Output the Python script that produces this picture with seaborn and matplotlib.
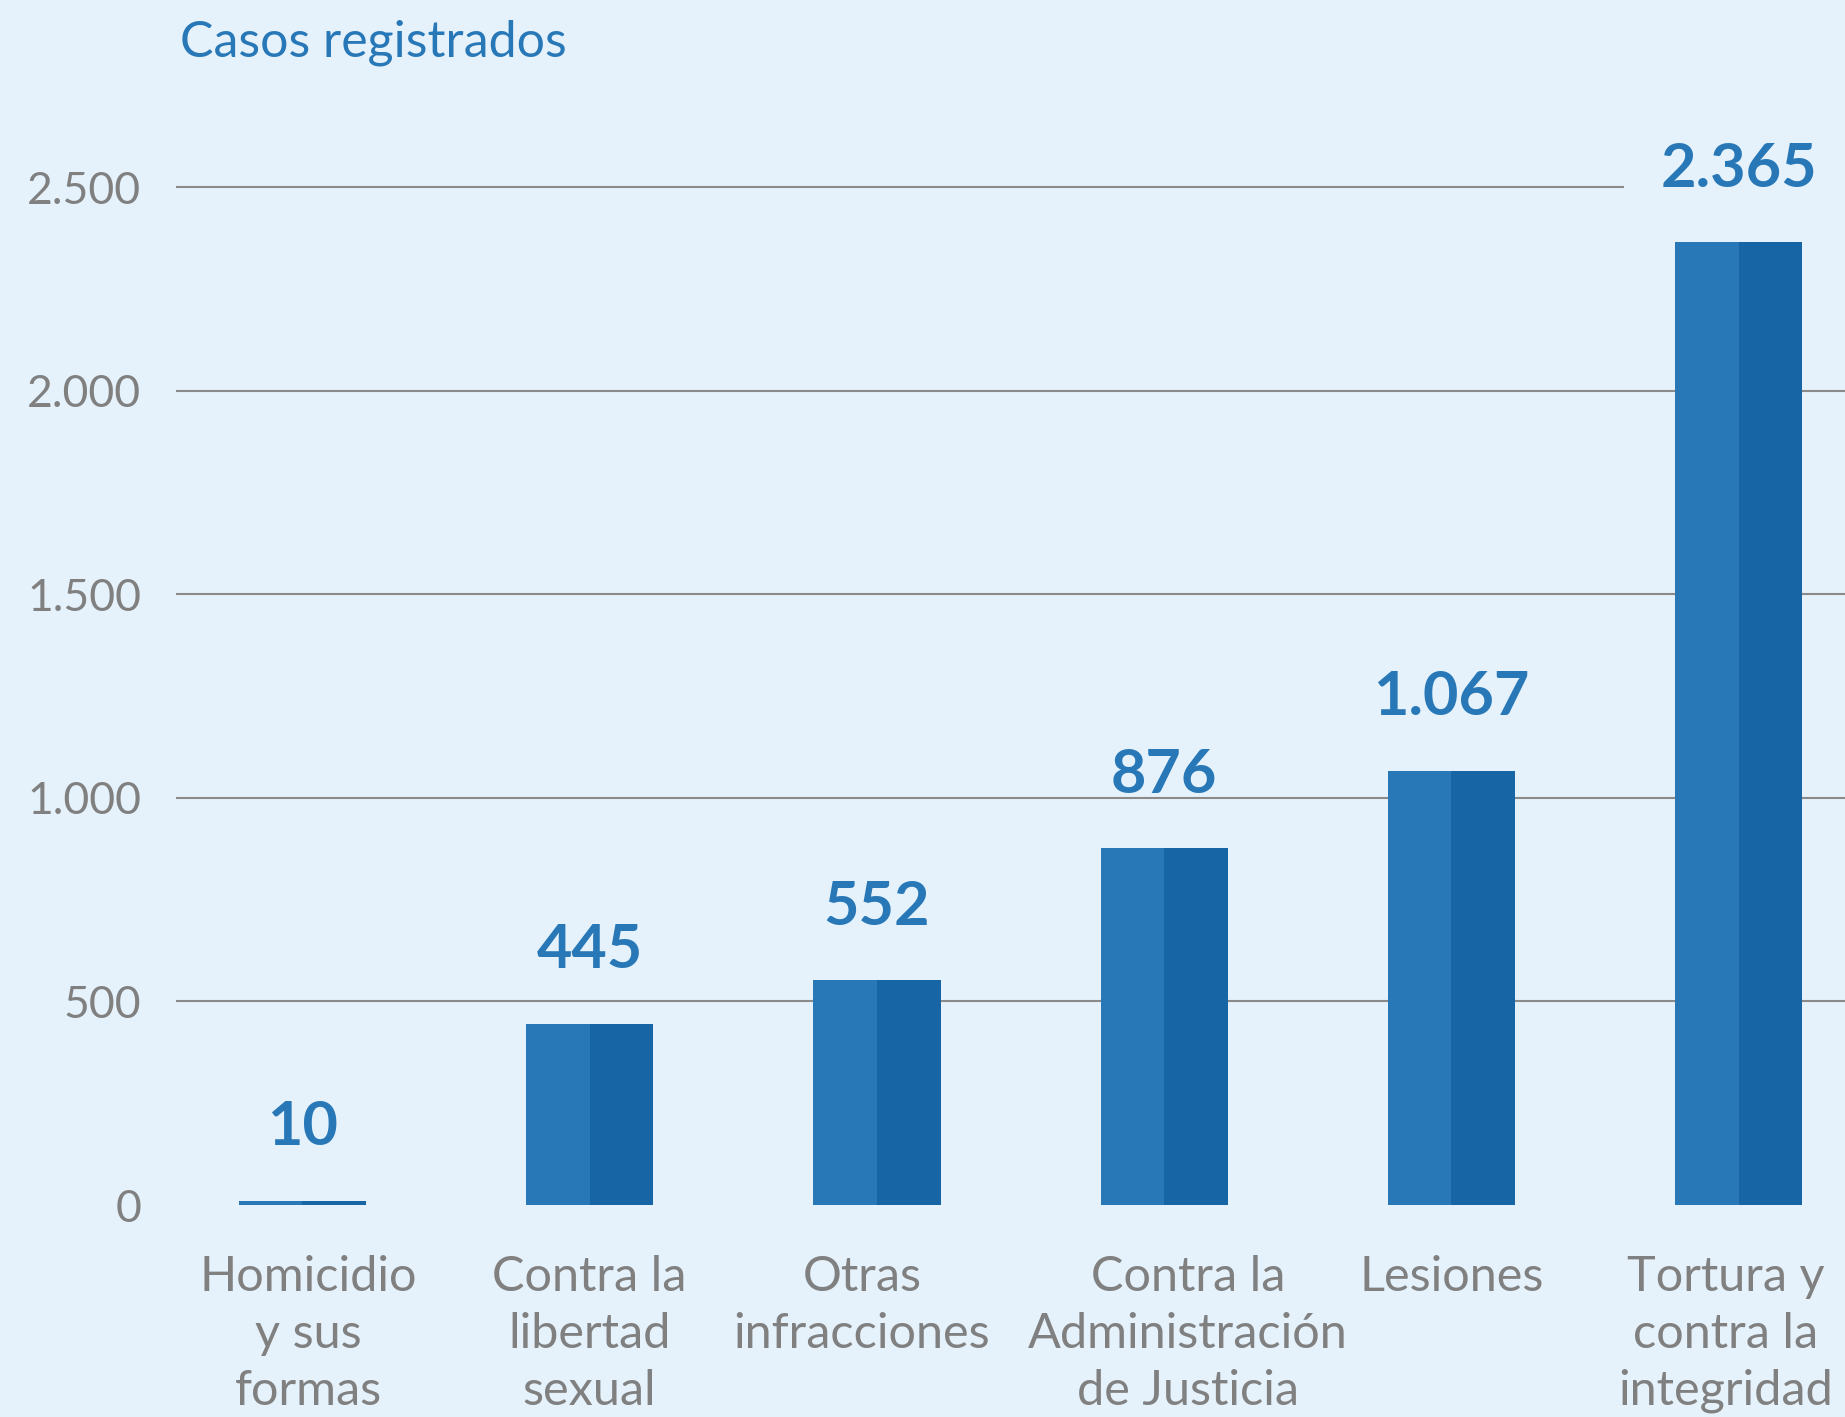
import numpy as np
import pandas as pd
import matplotlib
matplotlib.use("Agg")
import matplotlib.pyplot as plt
import matplotlib.transforms as mtransforms
import seaborn as sns
from matplotlib.ticker import FuncFormatter

categorias = ["Homicidio\ny sus\nformas", "Contra la\nlibertad\nsexual", "Otras\ninfracciones",
              "Contra la\nAdministración\nde Justicia", "Lesiones", "Tortura y\ncontra la\nintegridad"]
casos = [10, 445, 552, 876, 1067, 2365]
ticks_y = [0, 500, 1000, 1500, 2000, 2500]

fondo = "#e5f2fb"
azul = "#2878b8"
azul_osc = "#1865a5"
gris = "#808080"

sns.set_theme(style="white")
plt.rcParams['font.family'] = ['Lato', 'DejaVu Sans']

# cada barra en dos mitades (clara / oscura)
df = pd.DataFrame({
    "cat": categorias * 2,
    "casos": casos * 2,
    "lado": ["izq"] * len(casos) + ["der"] * len(casos),
})

fig = plt.figure(figsize=(18.45, 14.17), dpi=100, facecolor=fondo)
ax = fig.add_axes([0.0954, 0.1496, 0.9046, 0.8045])
ax.set_facecolor(fondo)

sns.barplot(data=df, x="cat", y="casos", hue="lado", palette=[azul, azul_osc],
            width=0.443, gap=0, dodge=True, saturation=1, legend=False, ax=ax,
            linewidth=0, edgecolor="none", zorder=2)

ax.set_xlim(-0.44, 5.37)
ax.set_ylim(0, 2800)
ax.set_yticks(ticks_y)
ax.yaxis.set_major_formatter(FuncFormatter(lambda v, p: f"{int(v):,}".replace(",", ".")))
ax.yaxis.grid(True, color="#8a8a8a", linewidth=1.5, zorder=0)
ax.get_ygridlines()[0].set_visible(False)
ax.set_axisbelow(True)
for s in ax.spines.values():
    s.set_visible(False)
ax.tick_params(axis="y", length=0, pad=25, labelsize=32, labelcolor=gris)
ax.tick_params(axis="x", length=0, pad=36, labelsize=35, labelcolor=gris)
ax.set_xlabel("")
ax.set_ylabel("")

# pequeños desplazamientos horizontales de las etiquetas (en px)
desplaz = [6, 0, -15, 24, 0, -13]
for t, dx in zip(ax.get_xticklabels(), desplaz):
    t.set_linespacing(1.36)
    t.set_transform(t.get_transform() + mtransforms.ScaledTranslation(dx / 100, 0, fig.dpi_scale_trans))

for i, v in enumerate(casos):
    txt = f"{v:,}".replace(",", ".")
    kw = {}
    if i == len(casos) - 1:
        kw["bbox"] = dict(boxstyle="square,pad=0.6", facecolor=fondo, edgecolor="none")
    ax.annotate(txt, (i, v), xytext=(0, 40), textcoords="offset points",
                ha="center", va="baseline", fontsize=44, fontweight="bold",
                color=azul, zorder=4, annotation_clip=False, **kw)

fig.text(180 / 1845, 1 - 43 / 1417, "Casos registrados", color=azul, fontsize=36,
         ha="left", va="center")

fig.savefig("out.png", dpi=100, facecolor=fondo)
